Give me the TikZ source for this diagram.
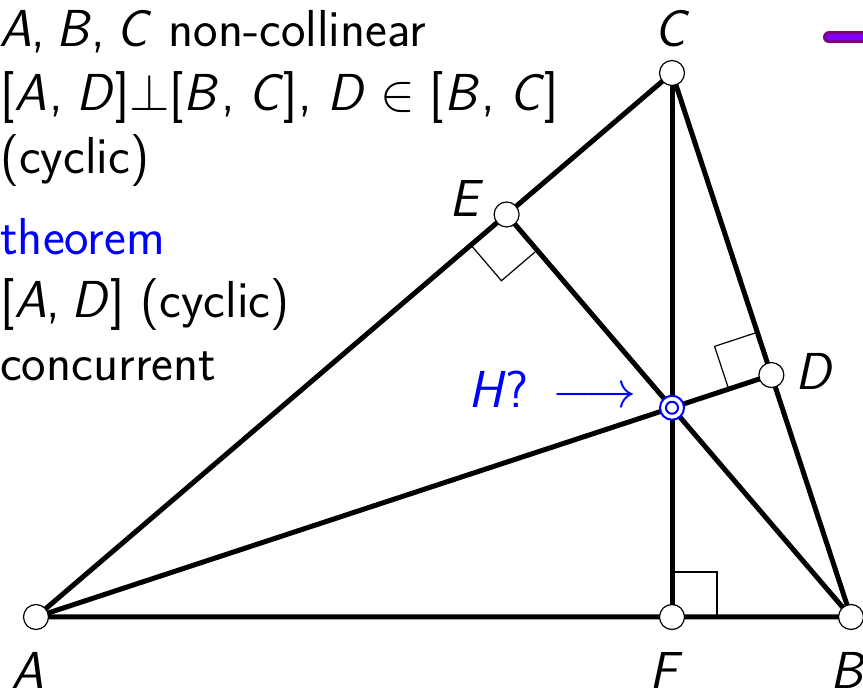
\documentclass[tikz,border=0pt]{standalone}
\usepackage{fix-cm}
\usetikzlibrary{calc}
\definecolor{barout}{RGB}{128,0,128}
\definecolor{barin}{RGB}{128,0,255}
\newcommand{\cs}{,\hspace{0.22em}}
\newcommand{\csw}{\/\kern0.05em,\hspace{0.26em}}
\begin{document}
\begin{tikzpicture}[x=1pt,y=-1pt,
  every node/.style={font=\fontsize{52}{62}\selectfont\sffamily, inner sep=0pt},
  edge/.style={line width=5pt, line cap=round},
  rmark/.style={line width=1.2pt},
  ptmark/.style={circle, draw=black, fill=white, line width=1.2pt, minimum size=25pt, inner sep=0pt},
  hmark/.style={circle, draw=blue, fill=white, line width=2pt, minimum size=24pt, inner sep=0pt},
  txt/.style={anchor=base west},
  lbl/.style={anchor=base}]
\useasboundingbox (0,0) rectangle (863,692);
% purple bar
\draw[line width=12pt, line cap=round, barout] (829,37.5) -- (880,37.5);
\draw[line width=6pt, line cap=round, barin] (829,37.5) -- (880,37.5);
% points
\coordinate (A) at (36,617);
\coordinate (B) at (851,617);
\coordinate (C) at (672,73);
\coordinate (F) at ($(A)!(C)!(B)$);
\coordinate (D) at ($(B)!(A)!(C)$);
\coordinate (E) at ($(A)!(B)!(C)$);
\coordinate (H) at (intersection of A--D and C--F);
% right-angle marks
\coordinate (f1) at ($(F)!45pt!(C)$);
\coordinate (f2) at ($(F)!45pt!(B)$);
\draw[rmark] (f1) -- ($(f1)+(f2)-(F)$) -- (f2);
\coordinate (e1) at ($(E)!47pt!(A)$);
\coordinate (e2) at ($(E)!47pt!(B)$);
\draw[rmark] (e1) -- ($(e1)+(e2)-(E)$) -- (e2);
\coordinate (d1) at ($(D)!45pt!(A)$);
\coordinate (d2) at ($(D)!45pt!(C)$);
\draw[rmark] (d1) -- ($(d1)+(d2)-(D)$) -- (d2);
% triangle and altitudes
\draw[edge] (A) -- (B) -- (C) -- cycle;
\draw[edge] (C) -- (F);
\draw[edge] (A) -- (D);
\draw[edge] (B) -- (E);
% markers
\node[ptmark] (nA) at (A) {};
\node[ptmark] (nB) at (B) {};
\node[ptmark] (nC) at (C) {};
\node[ptmark] (nD) at (D) {};
\node[ptmark] (nE) at (E) {};
\node[ptmark] (nF) at (F) {};
\node[hmark] (nH) at (H) {};
\draw[blue, line width=2pt] (H) circle (6pt);
% text
\node[txt] (t1) at (-1,47) {\textit{A}\cs\textit{B}\cs\textit{C} non-collinear};
\node[txt] (t2) at (0,111) {[\textit{A}\csw\textit{D}\/]$\perp$[\textit{B}\csw\textit{C}\/], \textit{D}\/\;$\in$\;[\textit{B}\csw\textit{C}\/]};
\node[txt] (t3) at (0,174) {(cyclic)};
\node[txt, text=blue] (t4) at (0,255) {theorem};
\node[txt] (t5) at (0,318) {[\textit{A}\cs\textit{D}] (cyclic)};
\node[txt] (t6) at (0,381) {concurrent};
% labels
\node[lbl] (lC) at (672,47) {\textit{C}};
\node[lbl] (lE) at (467,217) {\textit{E}};
\node[anchor=base west] (lD) at (795,390) {\textit{D}};
\node[anchor=base west, text=blue] (lH) at (468,408) {\textit{H}?\hspace{0.45em}$\longrightarrow$};
\node[lbl] (lA) at (28,688) {\textit{A}};
\node[lbl] (lF) at (666,688) {\textit{F}};
\node[lbl] (lB) at (848,688) {\textit{B}};
\end{tikzpicture}
\end{document}
